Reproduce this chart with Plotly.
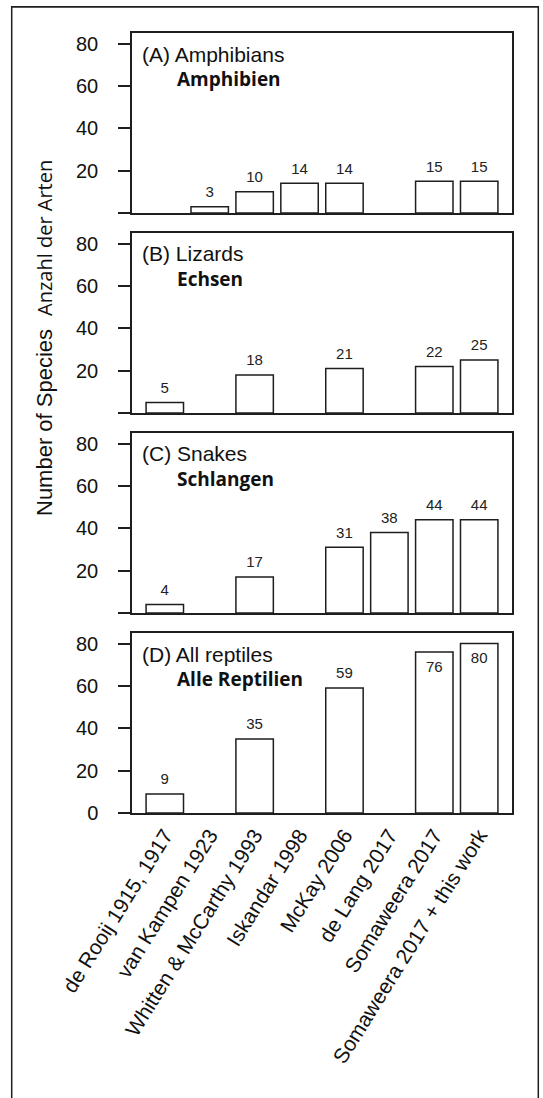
import plotly.graph_objects as go

# ---- data ----
categories = ["de Rooij 1915, 1917", "van Kampen 1923", "Whitten & McCarthy 1993",
              "Iskandar 1998", "McKay 2006", "de Lang 2017", "Somaweera 2017",
              "Somaweera 2017 + this work"]
amphibians = [None, 3, 10, 14, 14, None, 15, 15]
lizards = [5, None, 18, None, 21, None, 22, 25]
snakes = [4, None, 17, None, 31, 38, 44, 44]
reptiles = [9, None, 35, None, 59, None, 76, 80]

panel_titles = ["(A) Amphibians", "(B) Lizards", "(C) Snakes", "(D) All reptiles"]
panel_titles_de = ["Amphibien", "Echsen", "Schlangen", "Alle Reptilien"]
y_ticks = [0, 20, 40, 60, 80]

series = [amphibians, lizards, snakes, reptiles]

LINE = "#1e1e1e"
SANS = "Liberation Sans, Arial, sans-serif"
SEGOE = "Open Sans, sans-serif"

W, H = 543, 1098
ML, MR, MT, MB = 132, 31, 33, 285
plot_w = W - ML - MR
plot_h = H - MT - MB
panel_px, gap_px = 180, 20

fig = go.Figure()
layout = dict(
    width=W, height=H,
    margin=dict(l=ML, r=MR, t=MT, b=MB, autoexpand=False),
    paper_bgcolor="white", plot_bgcolor="white",
    showlegend=False, bargap=1 / 6,
)

annotations = []
for i, vals in enumerate(series):
    n = i + 1
    xa = "x" if n == 1 else f"x{n}"
    ya = "y" if n == 1 else f"y{n}"
    fig.add_trace(go.Bar(
        x=categories, y=vals, xaxis=xa, yaxis=ya,
        marker=dict(color="white", line=dict(color=LINE, width=1.5)),
        hoverinfo="skip",
    ))
    lx, ly, lt = [], [], []
    for c, v in zip(categories, vals):
        if v is None:
            continue
        lx.append(c)
        ly.append(v + 6.3 if v + 6.3 <= 80 else v - 7.5)
        lt.append(str(v))
    fig.add_trace(go.Scatter(
        x=lx, y=ly, text=lt, mode="text", xaxis=xa, yaxis=ya,
        textposition="middle center",
        textfont=dict(family=SANS, size=15, color="#222"),
        hoverinfo="skip",
    ))
    top = 1 - i * (panel_px + gap_px) / plot_h
    bottom = max(0.0, top - panel_px / plot_h)
    top = min(1.0, top)
    key_x = "xaxis" if n == 1 else f"xaxis{n}"
    key_y = "yaxis" if n == 1 else f"yaxis{n}"
    last = (n == 4)
    layout[key_x] = dict(
        domain=[0, 1], anchor=ya, type="category",
        range=[-0.73, len(categories) - 1 + 0.73],
        showline=True, mirror=True, linecolor=LINE, linewidth=1.5,
        ticks="", showgrid=False, zeroline=False,
        showticklabels=last, tickangle=-58, automargin=False,
        ticklabelstandoff=0,
        tickfont=dict(family=SANS, size=21, color="#111"),
        **({} if n == 1 else {"matches": "x"}),
    )
    layout[key_y] = dict(
        domain=[bottom, top], anchor=xa, range=[0, 85],
        showline=True, mirror=True, linecolor=LINE, linewidth=1.5,
        ticks="outside", ticklen=12, tickwidth=1.5, tickcolor=LINE,
        tickvals=y_ticks, automargin=False,
        ticktext=[(str(t) if (t > 0 or last) else "") for t in y_ticks],
        tickfont=dict(family=SANS, size=20, color="#111"),
        ticklabelstandoff=16,
        showgrid=False, zeroline=False,
    )
    annotations.append(dict(
        text=panel_titles[i], xref=f"{xa} domain", yref=f"{ya} domain",
        x=0.02, y=1 - 21 / panel_px, xanchor="left", yanchor="middle",
        showarrow=False, font=dict(family=SANS, size=21, color="#111"),
    ))
    annotations.append(dict(
        text=f"<b>{panel_titles_de[i]}</b>", xref=f"{xa} domain", yref=f"{ya} domain",
        x=0.113, y=1 - 46 / panel_px, xanchor="left", yanchor="middle",
        showarrow=False, font=dict(family=SEGOE, size=19, color="#111"),
    ))

annotations.append(dict(
    text="Number of Species", xref="paper", yref="paper",
    x=(44 - ML) / plot_w, y=(MT + plot_h - 423) / plot_h, textangle=-90,
    xanchor="center", yanchor="middle", showarrow=False,
    font=dict(family=SANS, size=22, color="#111"),
))
annotations.append(dict(
    text="Anzahl der Arten", xref="paper", yref="paper",
    x=(45 - ML) / plot_w, y=(MT + plot_h - 238) / plot_h, textangle=-90,
    xanchor="center", yanchor="middle", showarrow=False,
    font=dict(family=SEGOE, size=20, color="#111"),
))
layout["annotations"] = annotations

# outer frame of the figure (page pixel positions converted to paper units)
fx0, fx1 = (11.7 - ML) / plot_w, (538.3 - ML) / plot_w
fy_top, fy_bot = (MT + plot_h - 7) / plot_h, (MT + plot_h - 1110) / plot_h
frame = dict(type="line", xref="paper", yref="paper",
             line=dict(color=LINE, width=1.5), layer="above")
layout["shapes"] = [
    dict(frame, x0=fx0, x1=fx1, y0=fy_top, y1=fy_top),
    dict(frame, x0=fx0, x1=fx0, y0=fy_bot, y1=fy_top),
    dict(frame, x0=fx1, x1=fx1, y0=fy_bot, y1=fy_top),
]

fig.update_layout(**layout)

post = (
    "document.body.style.margin='0';"
    "document.body.style.overflow='hidden';"
    "var t=document.createElement('div');"
    "t.style.cssText='position:absolute;left:11px;top:6px;width:528px;height:0;"
    "border-top:1.5px solid #1e1e1e;pointer-events:none;';"
    "document.body.appendChild(t);"
)
fig.write_html("out.html", config={"displayModeBar": False}, post_script=post)
